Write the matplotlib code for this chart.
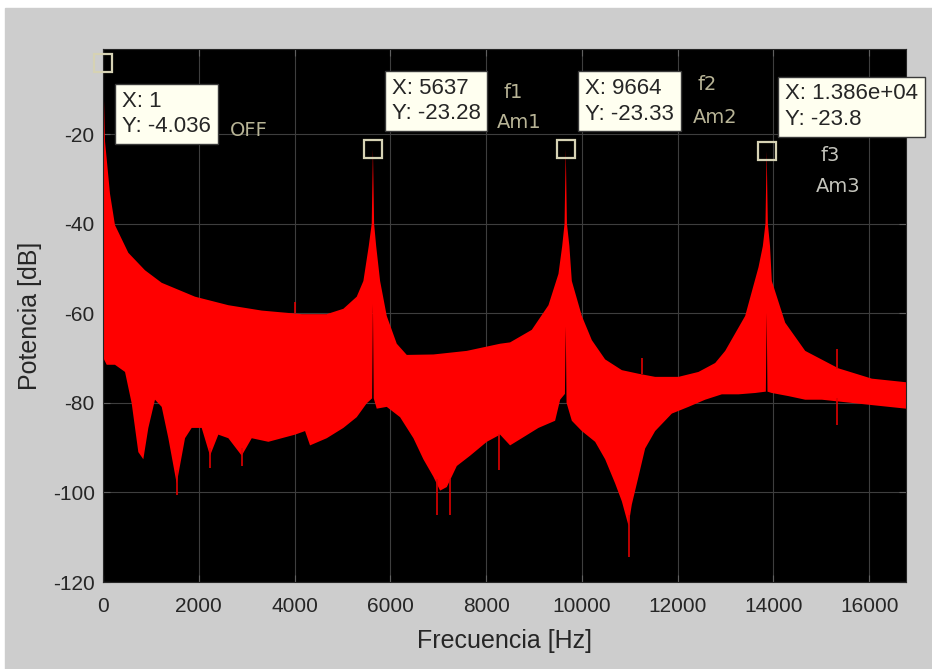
import matplotlib
matplotlib.use('Agg')
import matplotlib.pyplot as plt
import numpy as np
from matplotlib.patches import Rectangle

plt.rcParams['axes.unicode_minus'] = False

# Spectrum: upper and lower envelope of the red band (Hz, dB)
f_up = [1, 42, 146, 250, 529, 877, 1226, 1922, 2618, 3315, 4150, 4673, 5020,
        5299, 5438, 5550, 5612, 5637, 5662, 5705, 5787, 5926, 6135, 6344, 6900,
        7597, 8293, 8502, 8955, 9303, 9512, 9590, 9639, 9664, 9689, 9740, 9791,
        10000, 10209, 10487, 10836, 11183, 11531, 12018, 12436, 12576, 12785,
        12994, 13411, 13690, 13780, 13835, 13860, 13885, 13930, 13968, 14247,
        14665, 15361, 16058, 16770]
db_up = [-4.036, -21.6, -33.3, -40.3, -46.5, -50.4, -53.2, -56.3, -58.2, -59.4,
         -60.2, -60.2, -59.0, -56.3, -52.8, -45.0, -40.0, -23.28, -40.0, -45.0,
         -52.8, -60.6, -66.8, -69.3, -69.2, -68.4, -66.8, -66.5, -63.7, -58.2,
         -51.2, -45.0, -40.0, -23.33, -40.0, -45.0, -52.8, -60.6, -66.0, -70.3,
         -72.7, -73.5, -74.2, -74.2, -73.1, -72.3, -71.1, -68.4, -60.6, -49.7,
         -45.0, -40.0, -23.8, -40.0, -45.0, -52.8, -62.1, -68.4, -72.3, -74.6,
         -75.4]

f_lo = [7, 77, 250, 460, 599, 738, 842, 947, 1086, 1226, 1365, 1539, 1713, 1852,
        2061, 2235, 2409, 2618, 2897, 3106, 3454, 3732, 4011, 4220, 4324, 4673,
        5020, 5299, 5508, 5620, 5637, 5654, 5717, 5926, 6204, 6483, 6691, 6900,
        7040, 7180, 7389, 7667, 8016, 8293, 8502, 8746, 9094, 9442, 9547, 9647,
        9664, 9681, 9791, 10000, 10278, 10487, 10696, 10836, 10974, 11044, 11183,
        11322, 11531, 11880, 12227, 12576, 12924, 13272, 13620, 13843, 13860,
        13877, 13968, 14317, 14665, 15013, 15710, 16058, 16770]
db_lo = [-70.0, -71.5, -71.5, -73.1, -80.1, -91.0, -92.6, -85.6, -79.3, -80.9,
         -87.9, -98.0, -87.9, -85.6, -85.6, -91.8, -87.1, -87.9, -91.8, -87.9,
         -88.7, -87.9, -87.1, -86.3, -89.5, -87.9, -85.6, -83.2, -80.1, -79.0,
         -57.9, -79.0, -81.3, -80.9, -83.2, -87.9, -92.6, -96.5, -99.6, -98.8,
         -94.1, -91.8, -88.7, -87.1, -89.5, -87.9, -85.6, -84.0, -79.3, -78.0,
         -62.9, -80.0, -84.0, -86.3, -88.7, -92.6, -98.0, -102.0, -107.4, -102.7,
         -96.5, -90.2, -86.3, -82.4, -80.9, -79.3, -78.1, -78.1, -77.8, -77.5,
         -59.8, -77.5, -77.8, -78.5, -79.3, -79.3, -80.1, -80.5, -81.3]

# isolated spikes sticking out of the band
spike_f = [1539, 2235, 2897, 6977, 7250, 8260, 10995, 15335, 4011, 11260, 15320]
spike_from = [-95, -90, -90, -97, -97, -87, -105, -79, -60, -73.5, -72.5]
spike_to = [-100.5, -94.5, -94, -105, -105, -95, -114.5, -85, -57.5, -70, -68]

# data tips
tip_f = [1, 5637, 9664, 13860]
tip_db = [-4.036, -23.28, -23.33, -23.8]

# hand labels written on the plot
note_text = ['OFF', 'f1', 'Am1', 'f2', 'Am2', 'f3', 'Am3']

xticks = np.arange(0, 16001, 2000)
yticks = np.arange(-120, -19, 20)

fig = plt.figure(figsize=(9.32, 6.69), dpi=100, facecolor='white')
fig.add_artist(Rectangle((5 / 932, 0), 1, 661 / 669, transform=fig.transFigure,
                         color='#cdcdcd', zorder=-10))
ax = fig.add_axes([103 / 932, 87 / 669, 803 / 932, 533 / 669])
ax.set_facecolor('black')

ax.fill(np.concatenate([f_up, f_lo[::-1]]), np.concatenate([db_up, db_lo[::-1]]),
        color='#ff0000', lw=0, zorder=2)
ax.vlines(spike_f, spike_from, spike_to, color='#e00000', lw=1.2, zorder=2)

ax.set_xlim(0, 16770)
ax.set_ylim(-120, -1)
ax.set_xticks(xticks)
ax.set_yticks(yticks)
ax.grid(True, color='#3e3e3e', lw=0.8, zorder=1)
ax.set_axisbelow(True)
ax.tick_params(direction='in', top=True, right=True, color='#606060', length=5,
               labelcolor='#262626', labelsize=15)
ax.tick_params(axis='x', pad=11)
ax.tick_params(axis='y', pad=6)
for t in ax.get_xticklabels() + ax.get_yticklabels():
    t.set_family('Liberation Sans')
for s in ax.spines.values():
    s.set_color('#262626')
ax.set_xlabel('Frecuencia [Hz]', fontsize=18, family='Liberation Sans',
              color='#262626', labelpad=9)
ax.set_ylabel('Potencia [dB]', fontsize=18, family='Liberation Sans',
              color='#262626', labelpad=8)

ax.plot(tip_f, tip_db, 's', ms=13, mfc='none', mec='#d6d2b4', mew=1.6,
        clip_on=False, zorder=5)

tip_pos = [(397, -15.5), (6030, -12.6), (10068, -12.7), (14246, -13.9)]
for (x, y), fx, fy in zip(tip_pos, tip_f, tip_db):
    ax.text(x, y, f'X: {fx:.4g}\nY: {fy:.4g}', ha='left', va='center',
            fontsize=16, family='Liberation Sans', color='#262626',
            linespacing=1.3, zorder=6,
            bbox=dict(boxstyle='square,pad=0.3', fc='#fffff0', ec='#3a3a3a', lw=1))

note_pos = [(2653, -19.1), (8355, -10.8), (8230, -17.3), (12408, -9.0),
            (12324, -16.2), (14977, -24.7), (14893, -31.8)]
note_col = ['#b8b496'] * 5 + ['#c4c4bc'] * 2
for txt, (x, y), c in zip(note_text, note_pos, note_col):
    ax.text(x, y, txt, ha='left', va='center', fontsize=14,
            family='DejaVu Sans', color=c, zorder=6)

fig.savefig('out.png', dpi=100, facecolor=fig.get_facecolor())
